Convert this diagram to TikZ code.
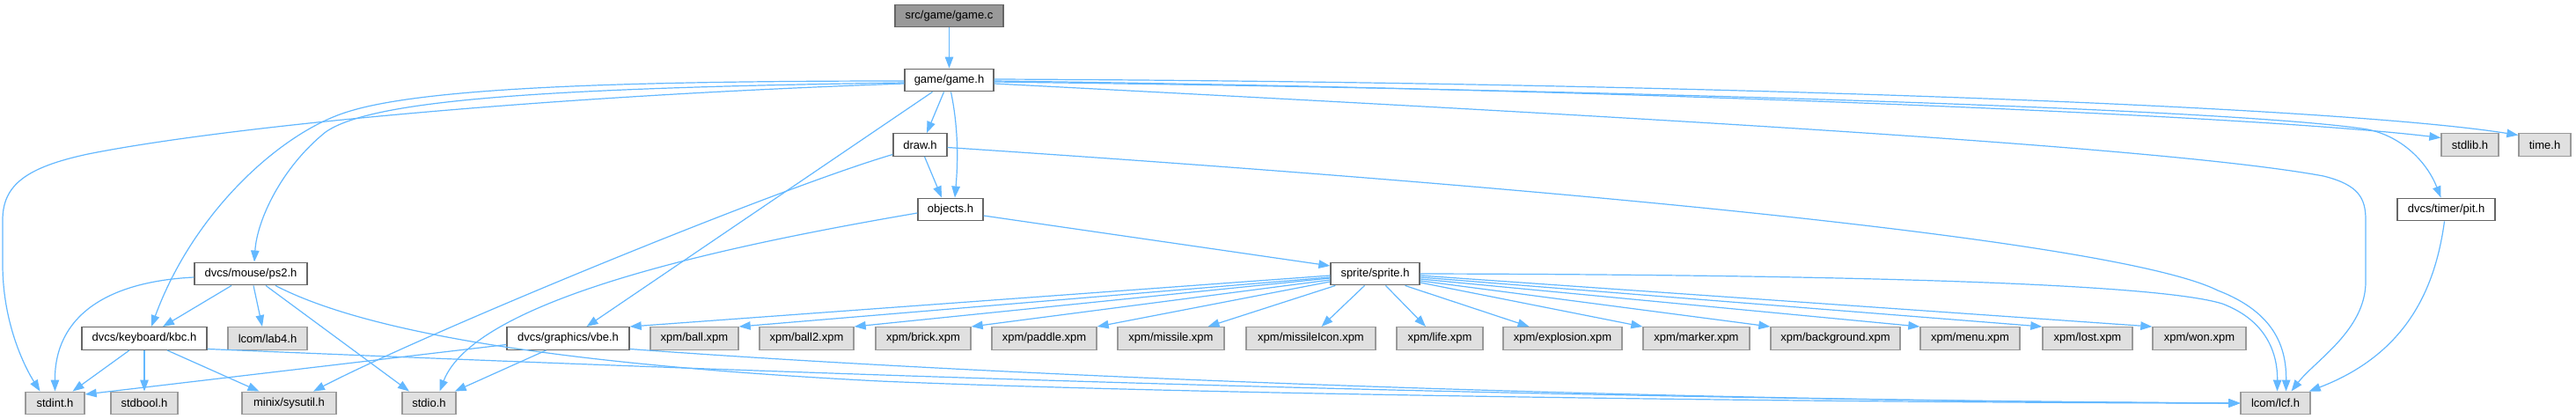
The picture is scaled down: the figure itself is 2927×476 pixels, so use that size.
\documentclass[tikz,border=0pt]{standalone}
\usepackage{fontspec}
\setmainfont{Liberation Sans}
\usetikzlibrary{arrows.meta,calc}
\definecolor{edgec}{HTML}{63B8FF}
\definecolor{cDark}{HTML}{666666}
\definecolor{cMid}{HTML}{999999}
\definecolor{cLight}{HTML}{E0E0E0}
\begin{document}
\begin{tikzpicture}[x=1pt,y=-1pt,
  box/.style={draw, rectangle, inner sep=0pt, minimum height=25.5pt, font=\fontsize{13}{15}\selectfont, line width=1.4pt},
  hdr/.style={box, draw=cDark, fill=white},
  sys/.style={box, draw=cMid, fill=cLight},
  src/.style={box, draw=cDark, fill=cMid},
  dep/.style={draw=edgec, line width=1.2pt, -{Triangle[length=13pt,width=9.5pt]}}]
\useasboundingbox[fill=white] (0,0) rectangle (2927,476);

% nodes
\node[src, minimum width=123pt] (gamec) at (1078.5,18) {src/game/game.c};
\node[hdr, minimum width=101pt] (gameh) at (1078.5,91) {game/game.h};
\node[hdr, minimum width=61pt] (drawh) at (1045.5,164.5) {draw.h};
\node[sys, minimum width=65pt] (stdlib) at (2806.5,164.5) {stdlib.h};
\node[sys, minimum width=59pt] (timeh) at (2891.5,164.5) {time.h};
\node[hdr, minimum width=74pt] (objects) at (1080,238) {objects.h};
\node[hdr, minimum width=111pt] (pit) at (2779.5,238) {dvcs/timer/pit.h};
\node[hdr, minimum width=128pt] (ps2) at (285,311) {dvcs/mouse/ps2.h};
\node[hdr, minimum width=101pt] (sprite) at (1562.5,311) {sprite/sprite.h};
\node[hdr, minimum width=142pt] (kbc) at (164,384.5) {dvcs/keyboard/kbc.h};
\node[sys, minimum width=90pt] (lab4) at (304,384.5) {lcom/lab4.h};
\node[hdr, minimum width=139pt] (vbe) at (645.5,384.5) {dvcs/graphics/vbe.h};
\node[sys, minimum width=100pt] (ball) at (789,384.5) {xpm/ball.xpm};
\node[sys, minimum width=107pt] (ball2) at (916.5,384.5) {xpm/ball2.xpm};
\node[sys, minimum width=108pt] (brick) at (1049,384.5) {xpm/brick.xpm};
\node[sys, minimum width=119pt] (paddle) at (1186.5,384.5) {xpm/paddle.xpm};
\node[sys, minimum width=121pt] (missile) at (1330.5,384.5) {xpm/missile.xpm};
\node[sys, minimum width=147pt] (micon) at (1489.5,384.5) {xpm/missileIcon.xpm};
\node[sys, minimum width=98pt] (life) at (1636,384.5) {xpm/life.xpm};
\node[sys, minimum width=135pt] (expl) at (1775.5,384.5) {xpm/explosion.xpm};
\node[sys, minimum width=121pt] (marker) at (1927.5,384.5) {xpm/marker.xpm};
\node[sys, minimum width=147pt] (bg) at (2085.5,384.5) {xpm/background.xpm};
\node[sys, minimum width=113pt] (menu) at (2238.5,384.5) {xpm/menu.xpm};
\node[sys, minimum width=102pt] (lost) at (2372,384.5) {xpm/lost.xpm};
\node[sys, minimum width=106pt] (won) at (2499,384.5) {xpm/won.xpm};
\node[sys, minimum width=67pt] (stdint) at (62.5,458) {stdint.h};
\node[sys, minimum width=76pt] (stdbool) at (164,458) {stdbool.h};
\node[sys, minimum width=107pt] (sysutil) at (328.5,458) {minix/sysutil.h};
\node[sys, minimum width=61pt] (stdio) at (487.5,458) {stdio.h};
\node[sys, minimum width=79pt] (lcf) at (2585.5,458) {lcom/lcf.h};

% game.c
\draw[dep] (gamec) -- (gameh);

% game.h
\draw[dep] ($(gameh.south)+(-6,0)$) -- ($(drawh.north)+(7.5,0)$);
\draw[dep] ($(gameh.south)+(2,0)$) .. controls (1090,150) and (1088,190) .. ($(objects.north)+(5,0)$);
\draw[dep] ($(gameh.south)+(-19,0)$) -- ($(vbe.north)+(21,0)$);
\draw[dep] ($(gameh.west)+(0,3)$) .. controls (600,100) and (420,115) .. (370,150) .. controls (320,190) and (292,250) .. ($(ps2.north)+(4,0)$);
\draw[dep] ($(gameh.west)+(0,1)$) .. controls (700,92) and (480,100) .. (395,127) .. controls (320,150) and (220,240) .. ($(kbc.north)+(8,0)$);
\draw[dep] ($(gameh.west)+(0,4)$) .. controls (600,110) and (250,145) .. (100,175) .. controls (30,190) and (3,210) .. (3,250) -- (3,300) .. controls (3,370) and (30,420) .. ($(stdint.north)+(-17,0)$);
\draw[dep] ($(gameh.east)+(0,1)$) .. controls (1800,100) and (2550,130) .. ($(stdlib.west)+(0,-8)$);
\draw[dep] ($(gameh.east)+(0,-1)$) .. controls (1900,93) and (2650,120) .. ($(timeh.west)+(0,-11)$);
\draw[dep] ($(gameh.east)+(0,2)$) .. controls (1900,103) and (2550,125) .. (2690,147) .. controls (2730,155) and (2758,185) .. ($(pit.north)+(-6,0)$);
\draw[dep] ($(gameh.east)+(0,4)$) .. controls (1800,130) and (2450,165) .. (2640,200) .. controls (2680,210) and (2688,225) .. (2688,250) -- (2688,320) .. controls (2688,375) and (2630,410) .. ($(lcf.north)+(18,0)$);

% draw.h
\draw[dep] ($(drawh.south)+(5,0)$) -- ($(objects.north)+(-10,0)$);
\draw[dep] ($(drawh.west)+(0,11)$) .. controls (880,215) and (480,380) .. ($(sysutil.north)+(27.5,0)$);
\draw[dep] ($(drawh.east)+(0,3)$) .. controls (1900,222) and (2420,280) .. (2520,330) .. controls (2585,355) and (2598,395) .. ($(lcf.north)+(12,0)$);

% objects.h
\draw[dep] ($(objects.west)+(0,4)$) .. controls (820,280) and (540,340) .. ($(stdio.north)+(12,0)$);
\draw[dep] ($(objects.east)+(0,7)$) -- ($(sprite.west)+(0,-9)$);

% pit.h
\draw[dep] ($(pit.south)+(-2,0)$) .. controls (2768,320) and (2740,400) .. ($(lcf.north east)+(-2,0)$);

% ps2.h
\draw[dep] ($(ps2.south)+(-22,0)$) -- ($(kbc.north)+(21,0)$);
\draw[dep] ($(ps2.south)+(3,0)$) -- ($(lab4.north)+(-6,0)$);
\draw[dep] ($(ps2.west)+(0,4)$) .. controls (120,320) and (62,360) .. (stdint.north);
\draw[dep] ($(ps2.south)+(17,0)$) -- ($(stdio.north)+(-22.5,0)$);
\draw[dep] ($(ps2.south)+(28,0)$) .. controls (420,380) and (650,415) .. (1000,433) .. controls (1400,450) and (2200,458) .. (lcf.west);

% kbc.h
\draw[dep] ($(kbc.south)+(-17,0)$) -- ($(stdint.north)+(20,0)$);
\draw[dep] (kbc.south) -- (stdbool.north);
\draw[dep] ($(kbc.south)+(26,0)$) -- ($(sysutil.north)+(-34,0)$);
\draw[dep] ($(kbc.east)+(0,12)$) .. controls (800,420) and (1600,452) .. (lcf.west);

% vbe.h
\draw[dep] ($(vbe.west)+(0,7)$) -- ($(stdint.east)+(0,-10)$);
\draw[dep] ($(vbe.south)+(-25,0)$) -- ($(stdio.north east)+(-2,0)$);
\draw[dep] ($(vbe.east)+(0,12)$) .. controls (1100,425) and (1800,455) .. (lcf.west);

% sprite.h
\draw[dep] ($(sprite.west)+(0,2)$) -- (vbe.north east);
\draw[dep] ($(sprite.west)+(0,4)$) -- (ball.north east);
\draw[dep] ($(sprite.west)+(0,5)$) -- (ball2.north east);
\draw[dep] ($(sprite.west)+(0,7)$) -- (brick.north east);
\draw[dep] ($(sprite.west)+(0,9)$) -- (paddle.north east);
\draw[dep] ($(sprite.south west)+(6,0)$) -- ($(missile.north)+(42,0)$);
\draw[dep] ($(sprite.south)+(-12,0)$) -- ($(micon.north)+(12,0)$);
\draw[dep] ($(sprite.south)+(12,0)$) -- ($(life.north)+(-16,0)$);
\draw[dep] ($(sprite.south)+(34,0)$) -- ($(expl.north)+(-38,0)$);
\draw[dep] ($(sprite.east)+(0,10)$) -- (marker.north west);
\draw[dep] ($(sprite.east)+(0,8)$) -- (bg.north west);
\draw[dep] ($(sprite.east)+(0,6)$) -- (menu.north west);
\draw[dep] ($(sprite.east)+(0,4)$) -- (lost.north west);
\draw[dep] ($(sprite.east)+(0,2)$) -- (won.north west);
\draw[dep] ($(sprite.east)+(0,0)$) .. controls (2100,312) and (2450,322) .. (2525,345) .. controls (2578,365) and (2588,405) .. ($(lcf.north)+(2,0)$);
\end{tikzpicture}
\end{document}
